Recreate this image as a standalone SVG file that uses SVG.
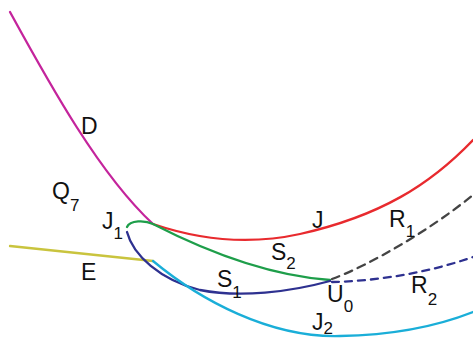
<svg xmlns="http://www.w3.org/2000/svg" width="473" height="339" viewBox="0 0 473 339">
<style>
.c{fill:none;stroke-width:2.3;stroke-linecap:round}
.l{font-family:"Liberation Sans",Arial,sans-serif;font-size:23px;fill:#111}
.s{font-size:17px}
</style>
<rect width="473" height="339" fill="#fff"/>
<g id="connectors">
<path id="D" class="c" stroke="#c4249c" d="M10,12 C50,85 100,175 153,224"/>
<path id="E" class="c" stroke="#c9c43e" d="M10,246 L153,261"/>
<path id="Jc" class="c" stroke="#e82a2e" d="M153,224 C200,240 250,245 300,234 C380,216 430,185 473,140"/>
<path id="S2" class="c" stroke="#1e9e4a" d="M127,227 C130,220 145,220 153,224 C190,243 260,275 330,280"/>
<path id="S1" class="c" stroke="#2e3190" d="M127,232 C133,255 160,280 200,290 C240,298 290,292 330,281"/>
<path id="J2" class="c" stroke="#1aaed8" d="M153,261 C200,300 270,338 340,336 C400,335 440,325 473,312"/>
<path id="R1" class="c" stroke="#444" stroke-dasharray="8 6" stroke-linecap="butt" d="M332,279 C370,265 430,230 473,195"/>
<path id="R2" class="c" stroke="#2e3190" stroke-dasharray="7 6" stroke-linecap="butt" d="M332,282 C380,281 430,272 473,257"/>
</g>
<g id="label-D"><text class="l" x="81" y="134">D</text></g>
<g id="label-Q7"><text class="l" x="52" y="199">Q<tspan class="s" dy="12">7</tspan></text></g>
<g id="label-J1"><text class="l" x="102" y="229">J<tspan class="s" dy="10">1</tspan></text></g>
<g id="label-E"><text class="l" x="81" y="280">E</text></g>
<g id="label-S1"><text class="l" x="217" y="287">S<tspan class="s" dy="11">1</tspan></text></g>
<g id="label-S2"><text class="l" x="271" y="260">S<tspan class="s" dy="9">2</tspan></text></g>
<g id="label-J"><text class="l" x="312" y="228">J</text></g>
<g id="label-U0"><text class="l" x="327" y="302">U<tspan class="s" dy="10">0</tspan></text></g>
<g id="label-J2"><text class="l" x="312" y="330">J<tspan class="s" dy="4">2</tspan></text></g>
<g id="label-R1"><text class="l" x="389" y="227">R<tspan class="s" dy="10">1</tspan></text></g>
<g id="label-R2"><text class="l" x="411" y="293">R<tspan class="s" dy="12">2</tspan></text></g>
</svg>
